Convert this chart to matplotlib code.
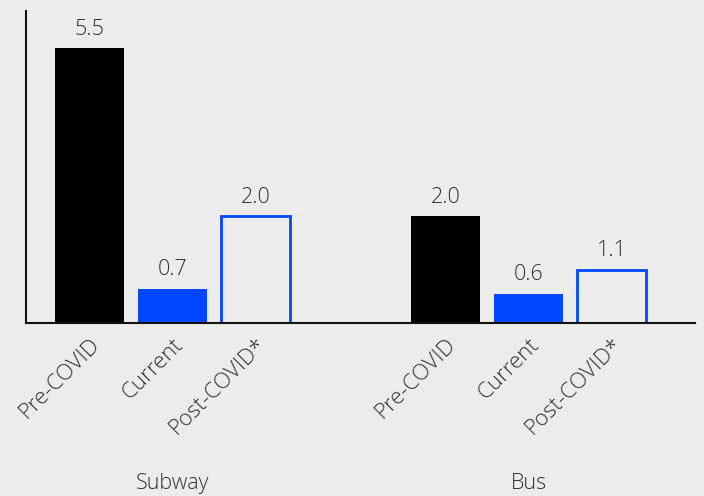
import numpy as np
import matplotlib
matplotlib.use("Agg")
import matplotlib.pyplot as plt
import matplotlib.transforms as mtransforms

# Dados
grupos = ["Subway", "Bus"]
categorias = ["Pre-COVID", "Current", "Post-COVID*"]
alturas_subway = [5.5, 0.68, 2.14]
alturas_bus = [2.14, 0.58, 1.06]
rotulos_subway = ["5.5", "0.7", "2.0"]
rotulos_bus = ["2.0", "0.6", "1.1"]

plt.rcParams["font.family"] = ["Open Sans", "DejaVu Sans"]
plt.rcParams["font.weight"] = "light"

fundo = "#ececec"
azul = "#0047ff"
texto = "#333333"

fig = plt.figure(figsize=(7.04, 4.96), dpi=100, facecolor=fundo)
ax = fig.add_axes([0.0369, 0.3488, 0.9503, 0.629])
ax.set_facecolor(fundo)

inicio_grupo = [0, 4.29]
estilos = [dict(color="black"),
           dict(color=azul),
           dict(facecolor="none", edgecolor=azul, linewidth=2)]

posicoes = []
nomes = []
for g, (alturas, rotulos) in enumerate([(alturas_subway, rotulos_subway),
                                        (alturas_bus, rotulos_bus)]):
    x = inicio_grupo[g] + np.arange(3)
    for i in range(3):
        ax.bar(x[i], alturas[i], width=0.83, **estilos[i])
        ax.text(x[i], alturas[i] + 0.38, rotulos[i], ha="center",
                va="center", fontsize=15.5, color=texto)
    posicoes += list(x)
    nomes += categorias
    trans = mtransforms.blended_transform_factory(ax.transData, ax.transAxes)
    ax.text(x[1], -0.513, grupos[g], transform=trans, ha="center",
            va="center", fontsize=15.5, color=texto)

ax.set_xlim(-0.765, 7.295)
ax.set_ylim(0, 6.24)
ax.set_xticks(posicoes)
ax.set_xticklabels(nomes, rotation=45, ha="right", rotation_mode="anchor",
                   fontsize=16, color=texto)
ax.tick_params(axis="x", length=0, pad=8)
ax.set_yticks([])
for lado in ["top", "right"]:
    ax.spines[lado].set_visible(False)
for lado in ["left", "bottom"]:
    ax.spines[lado].set_linewidth(1.5)
    ax.spines[lado].set_color("#111111")

fig.savefig("out.png", dpi=100, facecolor=fundo)
